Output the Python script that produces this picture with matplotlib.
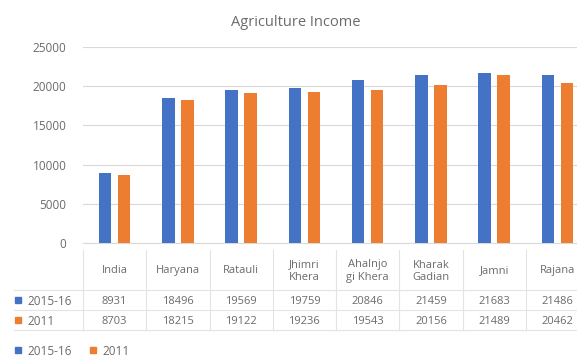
import matplotlib
matplotlib.use("Agg")
import matplotlib.pyplot as plt
from matplotlib.transforms import blended_transform_factory
from matplotlib.patches import Rectangle

categories = ["India", "Haryana", "Ratauli", "Jhimri\nKhera", "Ahalnjo\ngi Khera",
              "Kharak\nGadian", "Jamni", "Rajana"]
series_names = ["2015-16", "2011"]
values_2015 = [8931, 18496, 19569, 19759, 20846, 21459, 21683, 21486]
values_2011 = [8703, 18215, 19122, 19236, 19543, 20156, 21489, 20462]
yticks = [0, 5000, 10000, 15000, 20000, 25000]

colors = ["#4472C4", "#ED7D31"]
text_color = "#6B6B6B"
grid_color = "#D9D9D9"
plt.rcParams['font.family'] = ['Open Sans', 'DejaVu Sans']

W, H = 577, 358
fig = plt.figure(figsize=(W / 100, H / 100), dpi=100)

def fx(x):
    return x / W

def fy(y):
    return 1 - y / H

left, right, top, bottom = 83, 589, 47, 243
ax = fig.add_axes([fx(left), fy(bottom), fx(right) - fx(left), fy(top) - fy(bottom)])

n = len(categories)
xs = list(range(n))
bw = 0.2
off = 0.15
ax.bar([x - off for x in xs], values_2015, width=bw, color=colors[0], zorder=3)
ax.bar([x + off for x in xs], values_2011, width=bw, color=colors[1], zorder=3)

ax.set_xlim(-0.5, n - 0.5)
ax.set_ylim(0, 25000)
ax.set_yticks(yticks)
ax.set_yticklabels([str(v) for v in yticks], fontsize=8.5, color=text_color)
ax.tick_params(axis='y', length=0, pad=12)
ax.set_xticks([])
ax.grid(axis='y', color=grid_color, linewidth=0.8, zorder=0)
for s in ["top", "right", "left"]:
    ax.spines[s].set_visible(False)
ax.spines["bottom"].set_color(grid_color)

fig.text(fx(296), fy(23), "Agriculture Income", ha="center", va="center",
         fontsize=10.5, color=text_color)

# data table below the chart
tr = blended_transform_factory(ax.transData, fig.transFigure)
line_kw = dict(color="#E3E3E3", linewidth=0.8)
for i in range(n + 1):
    fig.add_artist(plt.Line2D([i - 0.5, i - 0.5], [fy(250), fy(330)], transform=tr, **line_kw))
for yy in [290, 310, 330]:
    fig.add_artist(plt.Line2D([fx(14), 1], [fy(yy), fy(yy)], transform=fig.transFigure, **line_kw))

fs = 8
for i, cat in enumerate(categories):
    fig.text(i, fy(269), cat, transform=tr, ha="center", va="center_baseline",
             fontsize=fs, color=text_color, linespacing=1.15)
    fig.text(i, fy(300), str(values_2015[i]), transform=tr, ha="center", va="center_baseline",
             fontsize=fs, color=text_color)
    fig.text(i, fy(320), str(values_2011[i]), transform=tr, ha="center", va="center_baseline",
             fontsize=fs, color=text_color)

for name, c, yy in zip(series_names, colors, [300, 320]):
    fig.add_artist(Rectangle((fx(15), fy(yy + 3)), fx(6), fy(0) - fy(6),
                             transform=fig.transFigure, color=c))
    fig.text(fx(27), fy(yy), name, ha="left", va="center_baseline", fontsize=8.5, color=text_color)

# bottom legend
for name, c, x0 in zip(series_names, colors, [15, 90]):
    fig.add_artist(Rectangle((fx(x0), fy(353)), fx(6), fy(0) - fy(6),
                             transform=fig.transFigure, color=c))
    fig.text(fx(x0 + 12), fy(350), name, ha="left", va="center_baseline", fontsize=8.5, color=text_color)

fig.savefig("out.png", dpi=100)
